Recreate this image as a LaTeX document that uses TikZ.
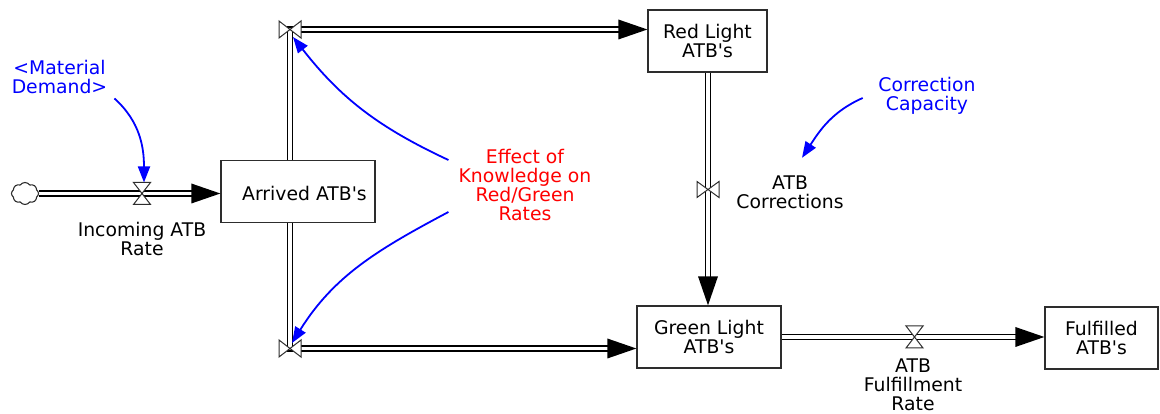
\documentclass[tikz,border=0pt]{standalone}
\usepackage{fontspec}
\setmainfont{DejaVu Sans}[Ligatures=TeXOff]
\usetikzlibrary{arrows.meta,shapes.symbols,backgrounds}
\definecolor{vblue}{RGB}{0,0,255}
\definecolor{vred}{RGB}{255,0,0}
\definecolor{edgegray}{RGB}{45,45,45}
\begin{document}
\begin{tikzpicture}[x=1pt,y=1pt,
  txt/.style={font=\fontsize{18.8}{19}\selectfont, align=center, inner sep=0pt},
  stock/.style={txt, draw=edgegray, line width=1.3pt, fill=white, minimum height=62pt},
  valvebox/.style={inner sep=0pt, outer sep=0pt, draw=none},
  valveshape/.style={draw=edgegray, line width=1pt, fill=white},
  pipe/.style={draw=black, line width=1.4pt, double=white, double distance=3.4pt},
  pipehead/.style={fill=black},
  link/.style={draw=vblue, line width=1.8pt, -{Triangle[length=16pt,width=12pt]}},
]
\useasboundingbox (0,0) rectangle (1160,414);

% stocks
\node[stock, minimum width=154pt] (arrived) at (298,222.5) {};
\node[txt] (arrivedtxt) at (304.5,221) {Arrived ATB's};
\node[stock, minimum width=119pt] (red) at (707.5,373) {Red Light\\ATB's};
\node[stock, minimum width=144pt] (green) at (709,77) {Green Light\\ATB's};
\node[stock, minimum width=113pt] (ful) at (1101.5,76) {Fulfilled\\ATB's};

% valves
\node[valvebox, minimum width=17pt, minimum height=22pt] (v1) at (142,220.5) {};
\node[valvebox, minimum width=22pt, minimum height=17pt] (vt) at (290,384.5) {};
\node[valvebox, minimum width=22pt, minimum height=17pt] (vb) at (290,65.5) {};
\node[valvebox, minimum width=22pt, minimum height=16pt] (vc) at (708,224.5) {};
\node[valvebox, minimum width=17pt, minimum height=22pt] (vf) at (914.5,77) {};

% cloud
\node[draw=edgegray, line width=1.1pt, fill=white, cloud, cloud puffs=8, cloud puff arc=110, aspect=1.3, minimum width=27pt, minimum height=22pt, inner sep=0pt] (cloud) at (25,220.5) {};

% labels
\node[txt] (inc) at (142,175) {Incoming ATB\\Rate};
\node[txt] (corr) at (790,221.5) {ATB\\Corrections};
\node[txt] (fullbl) at (913,29) {ATB\\Fulfillment\\Rate};
\node[txt, text=vblue] (md) at (59.5,337.5) {<Material\\Demand>};
\node[txt, text=vblue] (cc) at (927,318) {Correction\\Capacity};
\node[txt, text=vred] (eff) at (525,229) {Effect of\\Knowledge on\\Red/Green\\Rates};

% pipes
\begin{scope}[on background layer]
\draw[pipe] (cloud.east) -- (v1.center) -- ([xshift=-20pt]arrived.west |- v1.center);
\draw[pipe] (arrived.center -| vt.center) -- (vt.center) -- ([xshift=-20pt]red.west |- vt.center);
\draw[pipe] (arrived.center -| vb.center) -- (vb.center) -- ([xshift=-20pt]green.west |- vb.center);
\draw[pipe] (red.center -| vc.center) -- (vc.center) -- ([yshift=20pt]green.north -| vc.center);
\draw[pipe] (green.center |- vf.center) -- (vf.center) -- ([xshift=-20pt]ful.west |- vf.center);
\end{scope}

% valve shapes
\filldraw[valveshape] (v1.north west) -- (v1.north east) -- (v1.south west) -- (v1.south east) -- cycle;
\filldraw[valveshape] (vf.north west) -- (vf.north east) -- (vf.south west) -- (vf.south east) -- cycle;
\filldraw[valveshape] (vt.north west) -- (vt.south east) -- (vt.north east) -- (vt.south west) -- cycle;
\filldraw[valveshape] (vb.north west) -- (vb.south east) -- (vb.north east) -- (vb.south west) -- cycle;
\filldraw[valveshape] (vc.north west) -- (vc.south east) -- (vc.north east) -- (vc.south west) -- cycle;

% arrowheads of flows
\fill[pipehead] (arrived.west |- v1.center) -- ++(-29,10) -- ++(0,-20) -- cycle;
\fill[pipehead] (red.west |- vt.center) -- ++(-29,10) -- ++(0,-20) -- cycle;
\fill[pipehead] (green.west |- vb.center) -- ++(-29,10) -- ++(0,-20) -- cycle;
\fill[pipehead] (green.north -| vc.center) -- ++(-10,29) -- ++(20,0) -- cycle;
\fill[pipehead] (ful.west |- vf.center) -- ++(-29,10) -- ++(0,-20) -- cycle;

% information links
\draw[link] ([shift={(7pt,-5pt)}]md.south east) to[out=-42, in=90] ([xshift=2pt]v1.north);
\draw[link] ([shift={(-10pt,25pt)}]eff.west) to[out=155, in=-52] ([shift={(3pt,-7.5pt)}]vt.center);
\draw[link] ([shift={(-10pt,-27pt)}]eff.west) to[out=-152, in=58] ([shift={(2pt,5.5pt)}]vb.center);
\draw[link] ([shift={(-15.5pt,-2pt)}]cc.west) to[out=-156, in=57] ([shift={(12pt,18pt)}]corr.north);
\end{tikzpicture}
\end{document}
